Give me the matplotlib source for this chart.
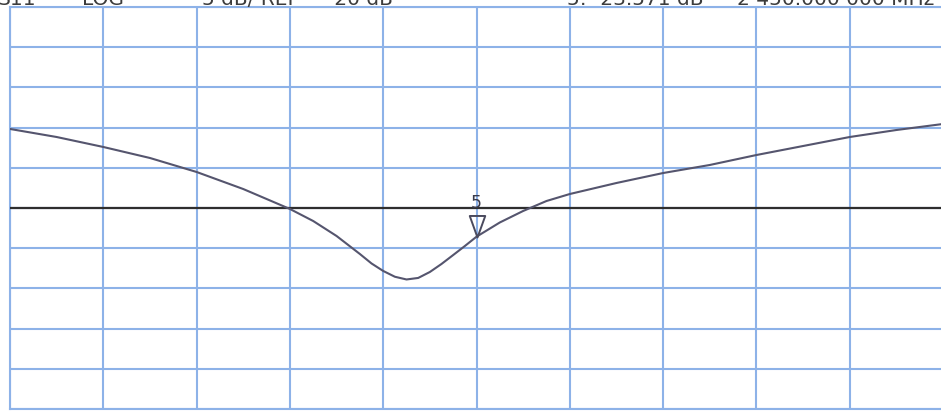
import matplotlib
matplotlib.use('Agg')
import matplotlib.pyplot as plt
from matplotlib.path import Path

# S11 trace (span assumed 2400-2500 MHz)
freq_mhz = [2400, 2405, 2410, 2415, 2420, 2425, 2430, 2432.5, 2435, 2437.5,
            2438.75, 2440, 2441.25, 2442.5, 2443.75, 2445, 2446.25, 2447.5,
            2448.75, 2450, 2452.5, 2455, 2457.5, 2460, 2465, 2470, 2475,
            2480, 2485, 2490, 2495, 2500]
s11_db = [-10.17, -11.17, -12.41, -13.78, -15.52, -17.64, -20.12, -21.62,
          -23.48, -25.72, -26.90, -27.83, -28.55, -28.89, -28.70, -27.96,
          -26.96, -25.85, -24.73, -23.571, -21.80, -20.37, -19.13, -18.26,
          -16.89, -15.65, -14.65, -13.41, -12.29, -11.17, -10.30, -9.55]

# screen settings
ref_db = -20
db_per_div = 5
marker_freq = 2450
marker_db = -23.571
header_left = ['S11', 'LOG', '5 dB/ REF', '-20 dB']
header_right = ['5: -23.571 dB', '2 450.000 000 MHz']

grid_col = '#8db2e8'
trace_col = '#55556e'

fig = plt.figure(figsize=(9.41, 4.11), dpi=100)
ax = fig.add_axes([10 / 941, 2 / 411, 933 / 941, 402 / 411])

ax.set_xlim(freq_mhz[0], freq_mhz[-1])
ax.set_ylim(ref_db - 5 * db_per_div, ref_db + 5 * db_per_div)
ax.set_xticks([freq_mhz[0] + i * 10 for i in range(11)])
ax.set_yticks([ref_db + (i - 5) * db_per_div for i in range(11)])
ax.grid(True, color=grid_col, linewidth=1.5)
ax.tick_params(length=0, labelbottom=False, labelleft=False)
for s in ax.spines.values():
    s.set_color(grid_col)
    s.set_linewidth(1.5)

# reference line
ax.axhline(ref_db, color='#2e2e2e', linewidth=1.6, zorder=3)

# trace
ax.plot(freq_mhz, s11_db, color=trace_col, linewidth=1.5, zorder=4)

# marker 5: open triangle with its tip on the trace
tri = Path([(0, 0), (-0.36, 1), (0.36, 1), (0, 0)],
           [Path.MOVETO, Path.LINETO, Path.LINETO, Path.CLOSEPOLY])
ax.plot([marker_freq], [marker_db], marker=tri, markersize=31,
        markerfacecolor='none', markeredgecolor='#4a4a5e',
        markeredgewidth=1.4, zorder=5)
ax.annotate('5', (marker_freq, marker_db), xytext=(0, 24),
            textcoords='offset points', ha='center', va='center',
            fontsize=12.5, color='#3a3a4a', zorder=6)

# header text, cut off at the top of the screen as on the analyzer
hy = (411 - 5) / 411
for txt, xp in zip(header_left, [-2, 82, 202, 327]):
    fig.text(xp / 941, hy, txt, fontsize=14.5, color='#3c3c3c', va='baseline')
for txt, xp in zip(header_right, [567, 737]):
    fig.text(xp / 941, hy, txt, fontsize=14.5, color='#3c3c3c', va='baseline')

fig.savefig('out.png', dpi=100, facecolor='white')
